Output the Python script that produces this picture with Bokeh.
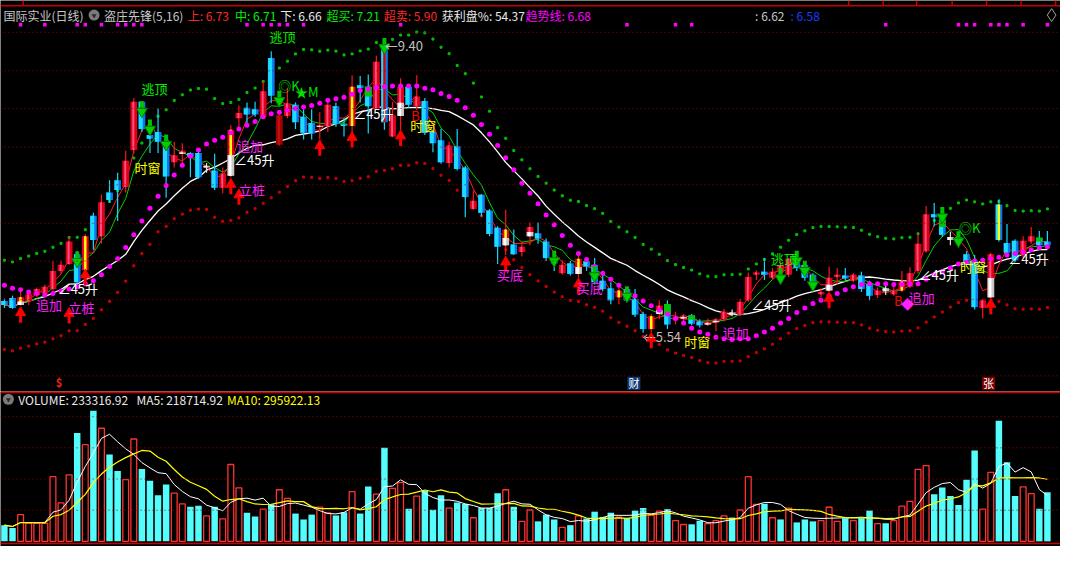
import numpy as np
import pandas as pd
from bokeh.plotting import figure
from bokeh.layouts import column
from bokeh.models import ColumnDataSource, Range1d, Span, Label
from bokeh.core.properties import value
from bokeh.embed import file_html
from bokeh.resources import INLINE

# ---------------- data ----------------
OPEN = [5.96, 6.00, 5.91, 5.96, 6.04, 6.06, 6.12, 6.36, 6.45, 6.58,
        6.37, 7.09, 6.82, 7.40, 7.56, 7.47, 7.96, 8.60, 8.16, 8.20,
        8.03, 7.80, 7.91, 7.92, 7.92, 7.73, 7.69, 7.46, 7.62, 8.38,
        8.52, 8.50, 8.40, 9.18, 8.03, 8.41, 8.56, 8.40, 8.32, 8.27,
        8.28, 8.54, 8.31, 8.28, 8.82, 8.54, 8.51, 9.36, 8.14, 8.41,
        8.80, 8.54, 8.61, 8.20, 8.09, 7.79, 8.01, 7.73, 7.18, 7.37,
        7.16, 6.93, 6.70, 6.71, 6.61, 6.82, 6.86, 6.75, 6.50, 6.33,
        6.46, 6.32, 6.49, 6.44, 6.23, 6.13, 6.01, 6.12, 5.99, 5.79,
        5.59, 5.79, 5.92, 5.72, 5.73, 5.77, 5.69, 5.65, 5.68, 5.72,
        5.81, 5.78, 5.97, 6.31, 6.35, 6.27, 6.34, 6.31, 6.49, 6.44,
        6.31, 6.05, 6.10, 6.28, 6.30, 6.23, 6.30, 6.19, 6.04, 6.13,
        6.05, 6.10, 6.15, 6.36, 6.62, 7.11, 7.04, 6.81, 6.81, 6.58,
        6.50, 5.87, 6.01, 7.24, 6.73, 6.76, 6.57, 6.75, 6.80, 6.75]
HIGH = [5.99, 6.03, 6.08, 6.10, 6.14, 6.18, 6.49, 6.49, 6.81, 6.62,
        6.85, 7.13, 7.37, 7.56, 7.66, 7.95, 8.65, 8.61, 8.33, 8.51,
        8.14, 8.07, 8.05, 7.93, 7.97, 7.79, 7.91, 7.73, 8.29, 8.55,
        8.59, 8.60, 8.87, 9.27, 8.46, 8.78, 8.59, 8.50, 8.50, 8.46,
        8.63, 8.59, 8.38, 8.95, 8.94, 8.96, 9.21, 9.40, 8.60, 8.91,
        8.81, 8.95, 8.65, 8.23, 8.24, 8.07, 8.24, 7.75, 7.42, 7.38,
        7.18, 6.95, 7.17, 6.91, 6.75, 7.00, 7.00, 6.79, 6.57, 6.50,
        6.49, 6.57, 6.53, 6.53, 6.36, 6.21, 6.18, 6.14, 6.12, 5.82,
        5.79, 5.97, 5.97, 5.82, 5.79, 5.79, 5.72, 5.73, 5.74, 5.86,
        5.85, 5.99, 6.34, 6.37, 6.53, 6.40, 6.49, 6.53, 6.52, 6.46,
        6.33, 6.13, 6.42, 6.40, 6.40, 6.33, 6.35, 6.23, 6.14, 6.17,
        6.15, 6.36, 6.41, 6.85, 7.22, 7.26, 7.08, 6.88, 6.88, 6.62,
        6.57, 5.99, 6.60, 7.31, 6.98, 6.78, 6.82, 6.94, 6.89, 6.89]
LOW = [5.87, 5.86, 5.90, 5.91, 6.01, 6.05, 6.10, 6.32, 6.44, 6.18,
       6.31, 6.64, 6.72, 7.26, 7.02, 7.40, 7.91, 8.20, 7.92, 7.92,
       7.33, 7.73, 7.79, 7.60, 7.58, 7.66, 7.43, 7.39, 7.60, 8.23,
       8.31, 8.40, 8.38, 8.58, 8.01, 8.38, 8.24, 8.10, 8.10, 8.10,
       8.20, 8.27, 8.14, 8.20, 8.59, 8.18, 8.50, 8.23, 8.13, 8.23,
       8.51, 8.49, 8.16, 7.93, 7.78, 7.73, 7.69, 7.07, 7.17, 7.08,
       6.82, 6.45, 6.57, 6.57, 6.55, 6.70, 6.72, 6.49, 6.36, 6.31,
       6.30, 6.27, 6.36, 6.18, 6.09, 5.92, 5.92, 5.95, 5.75, 5.54,
       5.55, 5.72, 5.59, 5.65, 5.69, 5.64, 5.61, 5.63, 5.56, 5.69,
       5.76, 5.76, 5.95, 6.24, 6.24, 6.24, 6.27, 6.28, 6.36, 6.23,
       6.14, 6.01, 6.08, 6.18, 6.23, 6.21, 6.08, 5.97, 6.00, 6.04,
       6.03, 6.08, 6.13, 6.33, 6.60, 6.95, 6.81, 6.70, 6.70, 6.41,
       5.85, 5.73, 5.99, 6.75, 6.57, 6.48, 6.53, 6.72, 6.67, 6.67]
CLOSE = [5.91, 5.87, 6.01, 6.05, 6.12, 6.15, 6.36, 6.44, 6.75, 6.21,
         6.82, 6.77, 7.27, 7.30, 7.43, 7.82, 8.60, 8.24, 8.11, 8.07,
         7.61, 7.89, 7.95, 7.88, 7.60, 7.75, 7.46, 7.65, 8.23, 8.45,
         8.43, 8.43, 8.74, 8.68, 8.42, 8.58, 8.33, 8.19, 8.18, 8.29,
         8.56, 8.31, 8.28, 8.80, 8.78, 8.80, 9.13, 8.33, 8.42, 8.80,
         8.56, 8.67, 8.19, 8.05, 7.80, 8.02, 7.71, 7.34, 7.29, 7.13,
         6.85, 6.68, 6.91, 6.58, 6.68, 6.94, 6.79, 6.53, 6.46, 6.44,
         6.32, 6.52, 6.42, 6.21, 6.12, 5.97, 6.10, 5.97, 5.78, 5.59,
         5.76, 5.90, 5.65, 5.74, 5.77, 5.66, 5.64, 5.69, 5.72, 5.82,
         5.78, 5.95, 6.28, 6.34, 6.31, 6.35, 6.44, 6.52, 6.40, 6.27,
         6.18, 6.08, 6.27, 6.31, 6.26, 6.31, 6.12, 6.03, 6.10, 6.09,
         6.10, 6.22, 6.33, 6.72, 7.11, 7.07, 6.84, 6.77, 6.75, 6.44,
         5.88, 5.97, 6.58, 6.77, 6.60, 6.50, 6.76, 6.82, 6.70, 6.70]
# candle colouring used by the indicator
STYLE = ["B", "B", "YW", "R", "R", "R", "R", "R", "R", "B",
         "Y", "B", "R", "B", "B", "R", "R", "B", "B", "B",
         "B", "R", "W", "B", "B", "X", "B", "R", "YW", "R",
         "B", "B", "R", "B", "D", "R", "B", "B", "B", "W",
         "R", "B", "G", "Y", "B", "G", "R", "BR", "R", "W",
         "B", "R", "B", "B", "B", "R", "B", "B", "R", "B",
         "B", "B", "YW", "B", "R", "W", "B", "B", "B", "R",
         "B", "YW", "B", "B", "B", "B", "Y", "B", "B", "B",
         "Y", "W", "G", "R", "W", "G", "B", "W", "W", "R",
         "X", "R", "R", "R", "B", "R", "R", "R", "B", "B",
         "B", "R", "W", "R", "B", "R", "B", "B", "R", "X",
         "R", "Y", "R", "R", "R", "B", "G", "X", "B", "B",
         "B", "R", "W", "BY", "B", "B", "R", "R", "G", "B"]
VOLUME = [77000, 64000, 127000, 87000, 87000, 85000, 307000, 183000, 316000, 514000,
          459000, 620000, 537000, 413000, 334000, 293000, 486000, 344000, 288000, 219000,
          270000, 229000, 178000, 164000, 169000, 121000, 164000, 107000, 365000, 254000,
          136000, 118000, 153000, 176000, 245000, 204000, 132000, 104000, 127000, 163000,
          135000, 123000, 138000, 236000, 132000, 261000, 224000, 445000, 252000, 279000,
          155000, 215000, 241000, 150000, 219000, 158000, 184000, 178000, 112000, 159000,
          158000, 228000, 245000, 164000, 95000, 149000, 95000, 127000, 104000, 66000,
          77000, 121000, 109000, 141000, 116000, 136000, 115000, 109000, 146000, 159000,
          124000, 144000, 153000, 98000, 80000, 81000, 98000, 84000, 98000, 121000,
          113000, 149000, 307000, 176000, 179000, 112000, 104000, 158000, 90000, 104000,
          95000, 98000, 162000, 95000, 110000, 98000, 110000, 146000, 84000, 86000,
          98000, 167000, 190000, 342000, 360000, 224000, 256000, 215000, 173000, 293000,
          431000, 153000, 328000, 573000, 376000, 215000, 259000, 227000, 155000, 233316.92]
VOL_UP = [0, 0, 1, 1, 1, 1, 1, 1, 1, 0,
          1, 0, 1, 0, 0, 1, 1, 0, 0, 0,
          0, 1, 1, 0, 0, 1, 0, 1, 1, 1,
          0, 0, 1, 0, 1, 1, 0, 0, 0, 1,
          1, 0, 0, 1, 0, 0, 1, 0, 1, 1,
          0, 1, 0, 0, 0, 1, 0, 0, 1, 0,
          0, 0, 1, 0, 1, 1, 0, 0, 0, 1,
          0, 1, 0, 0, 0, 0, 1, 0, 0, 0,
          1, 1, 0, 1, 1, 0, 0, 1, 1, 1,
          0, 1, 1, 1, 0, 1, 0, 1, 0, 0,
          0, 1, 1, 1, 0, 1, 0, 0, 1, 0,
          1, 1, 1, 1, 1, 0, 0, 0, 0, 0,
          0, 1, 1, 0, 0, 0, 1, 1, 0, 0]
# 趋势线 (magenta dotted line)
TREND = [6.17, 6.13, 6.11, 6.08, 6.06, 6.04, 6.06, 6.09, 6.12, 6.15,
         6.19, 6.23, 6.31, 6.42, 6.52, 6.67, 6.84, 7.02, 7.19, 7.35,
         7.49, 7.63, 7.76, 7.88, 7.96, 8.04, 8.09, 8.13, 8.19, 8.24,
         8.29, 8.34, 8.40, 8.44, 8.46, 8.49, 8.51, 8.53, 8.55, 8.58,
         8.62, 8.64, 8.66, 8.70, 8.75, 8.77, 8.79, 8.80, 8.81, 8.81,
         8.81, 8.81, 8.78, 8.76, 8.71, 8.67, 8.62, 8.52, 8.42, 8.30,
         8.17, 8.02, 7.86, 7.70, 7.52, 7.39, 7.25, 7.10, 6.97, 6.83,
         6.70, 6.59, 6.51, 6.42, 6.33, 6.25, 6.17, 6.10, 6.03, 5.96,
         5.90, 5.84, 5.79, 5.73, 5.67, 5.60, 5.55, 5.52, 5.48, 5.46,
         5.45, 5.46, 5.46, 5.50, 5.55, 5.60, 5.67, 5.73, 5.81, 5.87,
         5.93, 5.97, 6.03, 6.06, 6.11, 6.15, 6.18, 6.19, 6.19, 6.19,
         6.18, 6.18, 6.19, 6.19, 6.25, 6.31, 6.35, 6.40, 6.45, 6.47,
         6.49, 6.50, 6.52, 6.54, 6.57, 6.59, 6.61, 6.64, 6.67, 6.68]
TOP_DOTS = [2, 5, 9, 10, 12, 14, 15, 16, 17, 30, 32, 33, 34, 35, 37, 49, 77, 83, 85,
            109, 118, 119, 120, 122, 123, 124, 126, 129]
RED_UP_IDX = [2, 8, 10, 28, 29, 39, 43, 49, 62, 71, 80, 102, 122]
RED_UP_PRICE = [5.86, 5.85, 6.36, 7.56, 7.42, 8.07, 8.18, 8.20, 6.53, 6.24, 5.52, 6.05, 5.97]
GREEN_DN_IDX = [9, 17, 18, 20, 34, 47, 68, 73, 77, 96, 98, 99, 100, 116, 118]
GREEN_DN_PRICE = [6.43, 8.42, 8.18, 7.98, 8.56, 9.26, 6.44, 6.24, 5.97, 6.21, 6.44, 6.31, 6.12, 7.02, 6.70]
SIG_TEXT = ["逃顶", "逃顶", "逃顶", "时窗", "B", "时窗", "时窗", "时窗",
            "追加", "追加", "追加", "追加", "立桩", "立桩", "买底", "买底",
            "∠45升", "∠45升", "∠45升", "∠45升", "∠45升", "∠45升",
            "←5.54", "←9.40", "◎K", "★M", "◎K", "B", "◆"]
SIG_IDX = [16.94, 32.78, 94.80, 16.08, 50.32, 50.20, 84.07, 118.19,
           28.76, 3.90, 88.83, 111.86, 29.00, 7.92, 60.92, 70.79,
           6.58, 28.39, 43.13, 92.36, 113.07, 124.16,
           78.96, 47.03, 33.87, 35.95, 118.07, 110.03, 110.9]
SIG_PRICE = [8.77, 9.46, 6.53, 7.73, 8.42, 8.29, 5.42, 6.42,
             8.02, 5.91, 5.55, 6.01, 7.44, 5.87, 6.31, 6.14,
             6.13, 7.83, 8.45, 5.91, 6.31, 6.53,
             5.49, 9.35, 8.82, 8.73, 6.94, 5.97, 5.93]
SIG_KIND = ["top", "top", "top", "win", "b", "win", "win", "win",
            "add", "add", "add", "add", "add", "add", "add", "add",
            "up45", "up45", "up45", "up45", "up45", "up45",
            "ext", "ext", "ok", "ok", "ok", "b", "add"]
GRID_PRICE = [9.52, 9.01, 8.51, 8.00, 7.50, 6.99, 6.49, 5.98, 5.48, 4.97]
GRID_VOL = [148000, 296000, 444000, 592000]
HEADER = [("国际实业(日线)", "#C8C8C8"), ("盗庄先锋(5,16)", "#C8C8C8"),
          ("上: 6.73", "#FF2828"), ("中: 6.71", "#00F000"), ("下: 6.66", "#E8E8E8"),
          ("超买: 7.21", "#00F000"), ("超卖: 5.90", "#FF2828"),
          ("获利盘%: 54.37", "#E8E8E8"), ("趋势线: 6.68", "#FF00FF"),
          (": 6.62", "#C8C8C8"), (": 6.58", "#1E3CFF")]
VOL_HEADER = [("VOLUME: 233316.92", "#E8E8E8"), ("MA5: 218714.92", "#E8E8E8"),
              ("MA10: 295922.13", "#FFFF00")]

# ---------------- layout ----------------
W, TOP_H, VOL_H = 1060, 391, 155
X0, X1 = -0.487, 130.62
P0, P1 = 4.763, 9.941
V0, V1 = -24400, 711600
PP = (P1 - P0) / TOP_H
FONT = "Noto Sans CJK SC"


def rx(X):
    return X0 + X / 1076.0 * (X1 - X0)


def ry(Y):
    return P1 - Y / 402.0 * (P1 - P0)


def rv(Y):
    return V0 + (562.0 - Y) / 160.0 * (V1 - V0)


N = len(CLOSE)
idx = np.arange(N)
o = np.array(OPEN); c = np.array(CLOSE); h = np.array(HIGH); l = np.array(LOW)


def make_fig(height, yr):
    f = figure(width=W, height=height, x_range=Range1d(X0, X1), y_range=yr,
               output_backend="svg", toolbar_location=None,
               x_axis_location=None, y_axis_location=None, min_border=0,
               background_fill_color="black", border_fill_color="black",
               outline_line_color=None)
    f.grid.visible = False
    return f


p = make_fig(TOP_H, Range1d(P0, P1))
for g in GRID_PRICE:
    p.add_layout(Span(location=g, dimension="width", line_color="#A00000",
                      line_dash="1 3", line_width=1))
p.add_layout(Span(location=ry(5.5), dimension="width", line_color="#C80000", line_width=1.5))
tabs = [23, 861, 896, 930, 966, 1001, 1036, 1071]
p.segment(x0=[rx(t) for t in tabs], y0=[ry(0)] * len(tabs), x1=[rx(t) for t in tabs],
          y1=[ry(5)] * len(tabs), line_color="#C80000", line_width=1.5)

# indicator lines
cs = pd.Series(CLOSE)
ma10 = cs.rolling(10, min_periods=1).mean()
ma16 = cs.rolling(16, min_periods=1).mean()
ma5 = cs.rolling(5, min_periods=1).mean()
ma3 = cs.rolling(3, min_periods=1).mean()
p.scatter(idx, ma10 * 1.1, marker="square", size=2, color="#00C000")
p.scatter(idx, ma10 * 0.9, marker="square", size=2, color="#C80000")
p.line(idx, ma16, line_color="#FFFFFF", line_width=1.3)
p.line(idx, ma5, line_color="#00D000", line_width=1)
p.line(idx, ma3, line_color="#FF2020", line_width=1)

# candles
RED = {"R", "Y", "YW", "W"}
BLUE = {"B", "G", "BY", "BR"}
body_c, hl_c, wick_c, hl_x, hl_w = [], [], [], [], []
for i, s in enumerate(STYLE):
    if s in RED:
        body_c.append("#E0001C"); hl_c.append("#FF4F7E"); wick_c.append("#FF1414")
        hl_x.append(i - 0.06); hl_w.append(0.24)
    elif s in BLUE:
        body_c.append("#0A78F0"); hl_c.append("#1CDCFF"); wick_c.append("#14D8FF")
        hl_x.append(i - 0.14); hl_w.append(0.5)
    elif s == "D":
        body_c.append("#A00000"); hl_c.append("#C81010"); wick_c.append("#C00000")
        hl_x.append(i - 0.06); hl_w.append(0.24)
    else:
        body_c.append("#BDBDBD"); hl_c.append("#F2F2F2"); wick_c.append("#E0E0E0")
        hl_x.append(i - 0.12); hl_w.append(0.4)

top = np.maximum(o, c); bot = np.minimum(o, c)
minh = 1.8 * PP
small = (top - bot) < minh
mid = (top + bot) / 2
top = np.where(small, mid + minh / 2, top)
bot = np.where(small, mid - minh / 2, bot)

p.segment(x0=idx, y0=h, x1=idx, y1=l, line_color=wick_c, line_width=1.2)
p.vbar(x=idx, top=top, bottom=bot, width=0.84, fill_color=body_c, line_color=None)
p.vbar(x=hl_x, top=top, bottom=bot, width=hl_w, fill_color=hl_c, line_color=None)

sel = [i for i, s in enumerate(STYLE) if s == "G"]
p.vbar(x=sel, top=top[sel], bottom=[bot[i] + 0.5 * (top[i] - bot[i]) for i in sel],
       width=0.84, fill_color="#00C800", line_color=None)
sel = [i for i, s in enumerate(STYLE) if s in ("Y", "YW", "BY", "BR")]
p.vbar(x=sel, top=top[sel], bottom=bot[sel], width=0.3,
       fill_color=["#E00000" if STYLE[i] == "BR" else "#FFFF00" for i in sel], line_color=None)
sel = [i for i, s in enumerate(STYLE) if s in ("W", "YW")]
lw_top = [bot[i] + 0.45 * (top[i] - bot[i]) for i in sel]
p.vbar(x=sel, top=lw_top, bottom=bot[sel], width=0.84, fill_color="#C8C8C8", line_color=None)
p.vbar(x=[i - 0.1 for i in sel], top=lw_top, bottom=bot[sel], width=0.36,
       fill_color="#FFFFFF", line_color=None)

# trend dots
p.scatter(idx, TREND, marker="circle", size=5, fill_color="#FF00FF", line_color=None)
p.scatter(TOP_DOTS, [ry(25)] * len(TOP_DOTS), marker="square", size=3.5,
          fill_color="#FF00FF", line_color=None)

# arrows
p.segment(x0=RED_UP_IDX, y0=[t - 7 * PP for t in RED_UP_PRICE], x1=RED_UP_IDX,
          y1=[t - 14 * PP for t in RED_UP_PRICE], line_color="#FF0000", line_width=3)
p.scatter(RED_UP_IDX, [t - 4 * PP for t in RED_UP_PRICE], marker="triangle", size=10,
          fill_color="#FF0000", line_color="#FF0000")
p.segment(x0=GREEN_DN_IDX, y0=[t + 7 * PP for t in GREEN_DN_PRICE], x1=GREEN_DN_IDX,
          y1=[t + 14 * PP for t in GREEN_DN_PRICE], line_color="#00C000", line_width=4)
p.scatter(GREEN_DN_IDX, [t + 4 * PP for t in GREEN_DN_PRICE], marker="inverted_triangle",
          size=11, fill_color="#00D000", line_color="#008000")

# signal texts
kind_col = {"top": "#00F000", "win": "#FFFF00", "add": "#FF20FF", "up45": "#FFFFFF",
            "ext": "#C0C0C0", "ok": "#00E000", "b": "#FF0000"}
src = ColumnDataSource(dict(x=SIG_IDX, y=SIG_PRICE, text=SIG_TEXT,
                            color=[kind_col[k] for k in SIG_KIND]))
p.text(x="x", y="y", text="text", text_color="color", text_font=value(FONT),
       text_font_size="13px", text_baseline="middle", text_align="left", source=src)

# header
hx = [3, 105, 190, 238, 284, 331, 389, 448, 533, 766, 802]
for (t, col), X in zip(HEADER, hx):
    p.add_layout(Label(x=rx(X), y=ry(15), text=t, text_color=col, text_font=FONT,
                       text_font_size="12px", text_baseline="middle"))
p.scatter([rx(95)], [ry(15)], marker="circle", size=11, fill_color="#7A7A7A", line_color=None)
p.scatter([rx(95)], [ry(15.5)], marker="inverted_triangle", size=5, fill_color="#2A2A2A",
          line_color=None)
p.scatter([rx(1067)], [ry(15)], marker="diamond", size=13, fill_color=None,
          line_color="#A0A0A0", line_width=1)

# bottom markers
p.add_layout(Label(x=rx(56), y=ry(392), text="$", text_color="#FF2020", text_font=FONT,
                   text_font_size="11px", text_font_style="bold", text_baseline="middle"))
p.scatter([rx(643), rx(1003)], [ry(393.5), ry(393.5)], marker="square", size=13,
          fill_color=["#0E3C78", "#7A0000"], line_color=None)
p.text(x=[rx(643), rx(1003)], y=[ry(393.5), ry(393.5)], text=["财", "张"],
       text_color="#FFFFFF", text_font=value(FONT), text_font_size="11px",
       text_align="center", text_baseline="middle")

# ---------------- volume panel ----------------
q = make_fig(VOL_H, Range1d(V0, V1))
for g in GRID_VOL:
    q.add_layout(Span(location=g, dimension="width", line_color="#A00000",
                      line_dash="1 3", line_width=1))
q.add_layout(Span(location=rv(402.8), dimension="width", line_color="#C80000", line_width=2))
q.add_layout(Span(location=rv(559), dimension="width", line_color="#C80000", line_width=1.5))
vol = np.array(VOLUME)
up = np.array(VOL_UP) == 1
q.vbar(x=idx[~up], top=vol[~up], bottom=0, width=0.8, fill_color="#54FCFC", line_color=None)
q.vbar(x=idx[up], top=vol[up], bottom=0, width=0.72, fill_color=None,
       line_color="#FF3232", line_width=1.3)
vs = pd.Series(VOLUME)
q.line(idx, vs.rolling(5, min_periods=1).mean(), line_color="#FFFFFF", line_width=1)
q.line(idx, vs.rolling(10, min_periods=1).mean(), line_color="#FFFF00", line_width=1.2)
for (t, col), X in zip(VOL_HEADER, [18, 138, 230]):
    q.add_layout(Label(x=rx(X), y=rv(410), text=t, text_color=col, text_font=FONT,
                       text_font_size="12px", text_baseline="middle"))
q.scatter([rx(8)], [rv(410)], marker="circle", size=11, fill_color="#7A7A7A", line_color=None)
q.scatter([rx(8)], [rv(410.5)], marker="inverted_triangle", size=5, fill_color="#2A2A2A",
          line_color=None)

layout = column(p, q, spacing=0)
open("out.html", "w").write(file_html(layout, INLINE))
